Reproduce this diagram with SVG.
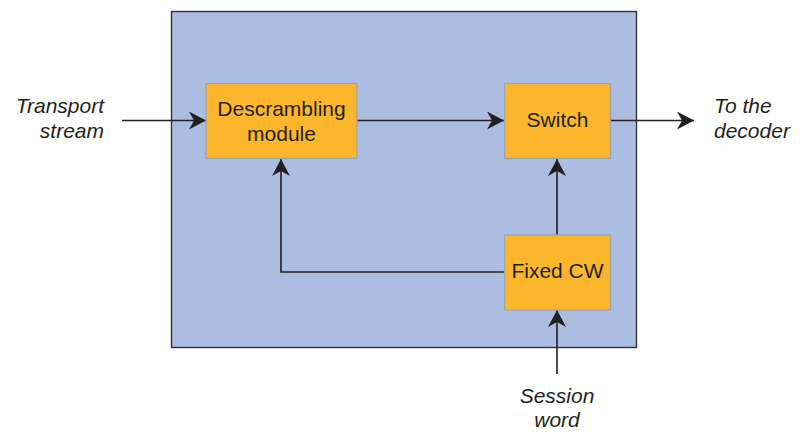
<svg xmlns="http://www.w3.org/2000/svg" width="808" height="432" viewBox="0 0 808 432">
<style>
.box{fill:#FBB62B;stroke:#9AA3B5;stroke-width:1.2}
.t{font-family:"Liberation Sans",Arial,sans-serif;font-size:21px;fill:#231F20;text-anchor:middle}
.l{font-family:"Liberation Sans",Arial,sans-serif;font-size:21px;font-style:italic;fill:#231F20}
.c{fill:none;stroke:#231F20;stroke-width:1.6}
</style>
<defs>
<marker id="a" markerUnits="userSpaceOnUse" markerWidth="20" markerHeight="20" refX="17" refY="9" orient="auto">
<path d="M0,0 L17,9 L0,18 L5,9 Z" fill="#231F20"/>
</marker>
</defs>
<rect x="171.5" y="11.5" width="465" height="336" fill="#ABBEE2" stroke="#333" stroke-width="1.4"/>
<g id="connectors">
<line class="c" x1="122" y1="120.5" x2="206" y2="120.5" marker-end="url(#a)"/>
<line class="c" x1="357" y1="120.5" x2="504" y2="120.5" marker-end="url(#a)"/>
<line class="c" x1="610" y1="120.5" x2="694" y2="120.5" marker-end="url(#a)"/>
<polyline class="c" points="504,272 281,272 281,159" marker-end="url(#a)"/>
<line class="c" x1="557" y1="235" x2="557" y2="159" marker-end="url(#a)"/>
<line class="c" x1="557" y1="374" x2="557" y2="310" marker-end="url(#a)"/>
</g>
<g id="descrambling">
<rect class="box" x="206" y="83.5" width="151" height="75"/>
<text class="t" x="281.5" y="116">Descrambling</text>
<text class="t" x="281.5" y="141">module</text>
</g>
<g id="switch">
<rect class="box" x="504.5" y="83.5" width="106" height="75"/>
<text class="t" x="557.5" y="127">Switch</text>
</g>
<g id="fixedcw">
<rect class="box" x="504.5" y="235" width="106" height="75"/>
<text class="t" x="557.5" y="278">Fixed CW</text>
</g>
<g id="labels">
<text class="l" x="104" y="113" text-anchor="end">Transport</text>
<text class="l" x="104" y="138" text-anchor="end">stream</text>
<text class="l" x="714" y="113">To the</text>
<text class="l" x="714" y="138">decoder</text>
<text class="l" x="557" y="403" text-anchor="middle">Session</text>
<text class="l" x="557" y="427" text-anchor="middle">word</text>
</g>
</svg>
